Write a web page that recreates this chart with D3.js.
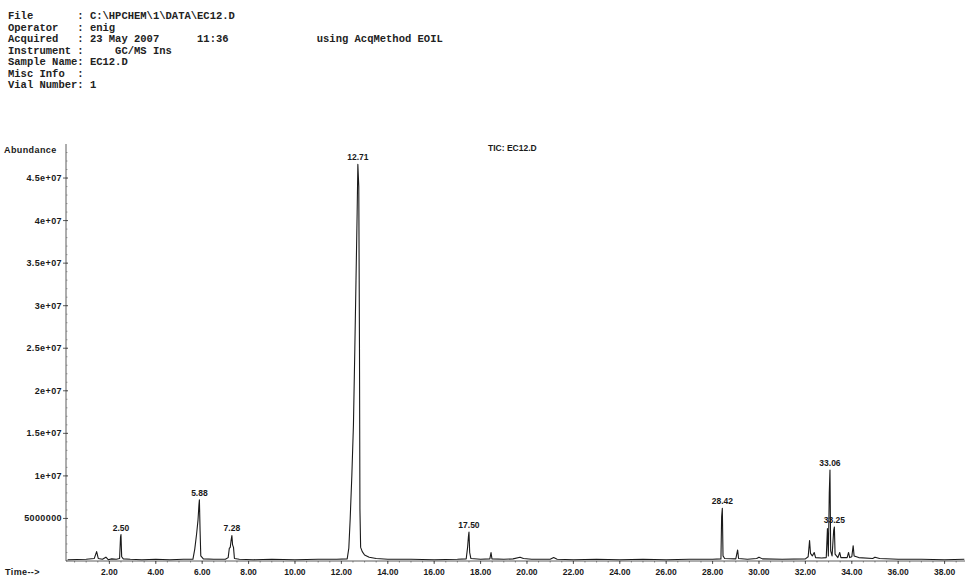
<!DOCTYPE html>
<html>
<head>
<meta charset="utf-8">
<script src="https://cdn.jsdelivr.net/npm/d3@7/dist/d3.min.js"></script>
<style>
  html, body { margin: 0; padding: 0; background: #fff; }
  svg { display: block; }
  .hdr { font-family: "Liberation Mono", "DejaVu Sans Mono", monospace; font-size: 10.5px; font-weight: bold; fill: #222; white-space: pre; }
  .lbl { font-family: "Liberation Sans", Arial, sans-serif; font-size: 8.5px; font-weight: bold; fill: #1a1a1a; }
  .big { font-size: 9px; letter-spacing: 0.4px; }
</style>
</head>
<body>
<svg id="chart" width="967" height="577"></svg>
<script>
// ---- header text ----
const headerLines = [
  "File       : C:\\HPCHEM\\1\\DATA\\EC12.D",
  "Operator   : enig",
  "Acquired   : 23 May 2007      11:36              using AcqMethod EOIL",
  "Instrument :     GC/MS Ins",
  "Sample Name: EC12.D",
  "Misc Info  :",
  "Vial Number: 1"
];
const chartTitle = "TIC: EC12.D";

// ---- axes ----
const xTicks = [2,4,6,8,10,12,14,16,18,20,22,24,26,28,30,32,34,36,38];
const yTicks = [5000000,10000000,15000000,20000000,25000000,30000000,35000000,40000000,45000000];
const yTickLabels = ["5000000","1e+07","1.5e+07","2e+07","2.5e+07","3e+07","3.5e+07","4e+07","4.5e+07"];

// ---- TIC trace (retention time, min / abundance) ----
const traceTime = [0.20,1.00,1.35,1.45,1.52,1.70,1.85,1.95,2.10,2.30,2.44,2.48,2.50,2.53,2.60,2.90,3.40,4.00,4.60,5.20,
  5.60,5.68,5.76,5.82,5.86,5.88,5.91,5.94,6.05,6.50,7.00,7.12,7.17,7.21,7.25,7.28,7.31,7.35,7.39,7.60,
  8.20,9.00,10.00,11.00,11.80,12.25,12.32,12.38,12.45,12.52,12.58,12.63,12.68,12.71,12.75,12.78,12.80,12.83,12.90,13.00,
  13.20,13.50,14.00,15.00,16.00,17.00,17.38,17.44,17.48,17.50,17.53,17.58,18.00,18.40,18.45,18.49,19.00,19.40,19.70,19.85,
  20.20,21.00,21.15,21.30,22.00,23.00,24.00,25.00,26.00,27.00,28.00,28.36,28.39,28.42,28.45,28.52,29.00,29.08,29.12,29.50,
  29.90,30.00,30.15,31.00,32.00,32.12,32.18,32.22,32.30,32.38,32.44,32.70,32.90,32.95,32.99,33.03,33.06,33.09,33.15,33.22,
  33.25,33.28,33.40,33.48,33.53,33.80,33.86,33.91,34.00,34.06,34.10,34.30,34.90,35.00,35.20,36.00,37.00,38.00,38.85];
const traceAbund = [1.5e5,2.0e5,3.0e5,1.1e6,3.0e5,2.0e5,4.5e5,1.5e5,2.5e5,2.0e5,3.0e5,2.8e6,3.1e6,5.0e5,2.5e5,2.0e5,1.5e5,2.0e5,1.5e5,2.0e5,
  2.0e5,1.4e6,3.2e6,4.8e6,6.6e6,7.2e6,3.5e6,6.0e5,2.5e5,2.0e5,2.0e5,4.0e5,1.5e6,1.6e6,2.5e6,3.0e6,1.9e6,1.6e6,3.0e5,2.0e5,
  1.5e5,2.0e5,1.5e5,2.0e5,2.0e5,2.5e5,1.5e6,5.0e6,1.0e7,1.6e7,2.5e7,3.3e7,4.1e7,4.66e7,4.4e7,2.5e7,6.0e6,1.6e6,1.1e6,7.0e5,
  4.5e5,3.0e5,2.0e5,2.0e5,1.5e5,2.0e5,2.5e5,1.6e6,3.0e6,3.4e6,1.0e6,3.0e5,2.0e5,2.5e5,1.0e6,2.5e5,2.0e5,2.5e5,4.5e5,3.0e5,
  2.0e5,2.0e5,4.0e5,2.0e5,1.5e5,2.0e5,1.5e5,2.0e5,1.5e5,2.0e5,2.0e5,2.5e5,5.2e6,6.2e6,6.0e5,3.0e5,2.5e5,1.3e6,3.0e5,2.0e5,
  3.0e5,4.5e5,2.5e5,2.0e5,2.5e5,5.0e5,2.4e6,9.0e5,6.0e5,1.0e6,4.0e5,3.5e5,4.0e5,3.8e6,6.0e5,8.0e6,1.07e7,1.2e6,6.0e5,3.6e6,
  4.0e6,8.0e5,4.0e5,1.0e6,4.0e5,4.0e5,1.0e6,4.0e5,5.0e5,1.8e6,6.0e5,4.0e5,3.0e5,4.5e5,3.0e5,2.0e5,2.0e5,1.5e5,2.0e5];

// ---- labelled peaks ----
const peakTimes  = [2.50, 5.88, 7.28, 12.71, 17.50, 28.42, 33.06, 33.25];
const peakLabels = ["2.50","5.88","7.28","12.71","17.50","28.42","33.06","33.25"];

// ---------------------------------------------------------------
const svg = d3.select("#chart");

// header
const hdr = svg.append("g");
headerLines.forEach((s, i) => {
  hdr.append("text").attr("class", "hdr").attr("x", 8).attr("y", 19 + i * 11.5).text(s);
});

// scales
const x = d3.scaleLinear().domain([0.13, 38.88]).range([66, 965]);
const y = d3.scaleLinear().domain([0, 4.9e7]).range([561, 144]);

const axisColor = "#333";
const t0 = 0.13, t1 = 38.88;

// y axis
const yAxis = svg.append("g").attr("transform", `translate(${x(t0)},0)`);
yAxis.append("line").attr("x1", 0).attr("x2", 0).attr("y1", y(0)).attr("y2", y(4.9e7))
  .attr("stroke", axisColor).attr("stroke-width", 0.8);
yAxis.call(g => {
  const minor = d3.range(0, 4.9e7, 1e6);
  g.selectAll(".ymin").data(minor).join("line").attr("class","ymin")
    .attr("x1", 0).attr("x2", 1.5).attr("y1", d => y(d)).attr("y2", d => y(d))
    .attr("stroke", "#666").attr("stroke-width", 0.6);
  g.selectAll(".ymaj").data(yTicks).join("line").attr("class","ymaj")
    .attr("x1", -3).attr("x2", 2).attr("y1", d => y(d)).attr("y2", d => y(d))
    .attr("stroke", axisColor).attr("stroke-width", 0.8);
  g.selectAll(".ylab").data(yTicks).join("text").attr("class","lbl big ylab")
    .attr("x", -4).attr("y", d => y(d) + 3).attr("text-anchor", "end")
    .text((d, i) => yTickLabels[i]);
});
svg.append("text").attr("class", "lbl big").attr("x", 4).attr("y", 153).text("Abundance");

// x axis
const xAxis = svg.append("g").attr("transform", `translate(0,${y(0)})`);
xAxis.append("line").attr("x1", x(t0)).attr("x2", x(t1)).attr("y1", 0).attr("y2", 0)
  .attr("stroke", axisColor).attr("stroke-width", 0.8);
const xMinor = d3.range(0.5, t1, 0.5);
xAxis.selectAll(".xmin").data(xMinor).join("line").attr("class","xmin")
  .attr("x1", d => x(d)).attr("x2", d => x(d)).attr("y1", 0).attr("y2", 1.5)
  .attr("stroke", "#555").attr("stroke-width", 0.7);
xAxis.selectAll(".xmaj").data(xTicks).join("line").attr("class","xmaj")
  .attr("x1", d => x(d)).attr("x2", d => x(d)).attr("y1", 0).attr("y2", 3)
  .attr("stroke", axisColor).attr("stroke-width", 0.8);
xAxis.selectAll(".xlab").data(xTicks).join("text").attr("class","lbl xlab")
  .attr("x", d => x(d)).attr("y", 14).attr("text-anchor", "middle")
  .text(d => d.toFixed(2));
svg.append("text").attr("class", "lbl big").attr("x", 5).attr("y", 575).text("Time-->");

// title
svg.append("text").attr("class", "lbl").attr("x", 488).attr("y", 151).text(chartTitle);

// trace
const pts = traceTime.map((t, i) => [t, traceAbund[i]]);
const line = d3.line().x(d => x(d[0])).y(d => y(d[1]));
svg.append("path").datum(pts).attr("d", line)
  .attr("fill", "none").attr("stroke", "#1a1a1a").attr("stroke-width", 1.1)
  .attr("stroke-linejoin", "round");

// peak labels
peakTimes.forEach((t, i) => {
  const idx = traceTime.indexOf(t);
  const v = traceAbund[idx];
  svg.append("text").attr("class", "lbl").attr("x", x(t)).attr("y", y(v) - 4)
    .attr("text-anchor", "middle").text(peakLabels[i]);
});
</script>
</body>
</html>
